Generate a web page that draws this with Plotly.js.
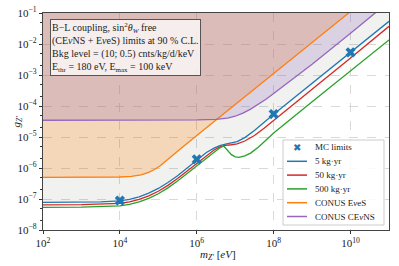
<!DOCTYPE html>
<html><head><meta charset="utf-8">
<script src="https://cdn.plot.ly/plotly-3.0.1.min.js"></script>
<style>html,body{margin:0;padding:0;background:#fff}#chart{width:399px;height:266px}</style>
</head><body><div id="chart"></div>
<script>
// ---- data (log10 values) ----
const logMassBlue = [2,3,3.5,4,4.25,4.5,4.75,5,5.25,5.5,5.75,6,6.25,6.45,6.6,6.75,6.9,7.05,7.25,7.5,8,9,10,11];
const logGBlue    = [-7.11,-7.10,-7.09,-7.06,-7.01,-6.93,-6.81,-6.66,-6.47,-6.25,-6.00,-5.74,-5.50,-5.36,-5.28,-5.23,-5.20,-5.15,-5.02,-4.79,-4.27,-3.27,-2.27,-1.27];
const logMassRed  = [2,3,4,4.25,4.5,4.75,5,5.25,5.5,5.75,6,6.25,6.45,6.6,6.75,6.9,7.05,7.25,7.5,7.75,8,9,10,11];
const logGRed     = [-7.19,-7.18,-7.14,-7.09,-7.01,-6.90,-6.75,-6.56,-6.34,-6.10,-5.84,-5.59,-5.42,-5.32,-5.27,-5.25,-5.22,-5.13,-4.95,-4.72,-4.47,-3.46,-2.45,-1.43];
const logMassGreen= [2,3,4,4.25,4.5,4.75,5,5.25,5.5,5.75,6,6.25,6.45,6.6,6.7,6.8,6.9,7.0,7.1,7.25,7.4,7.6,7.8,8,9,10,11];
const logGGreen   = [-7.27,-7.26,-7.22,-7.17,-7.09,-6.98,-6.83,-6.64,-6.42,-6.18,-5.94,-5.70,-5.49,-5.35,-5.29,-5.42,-5.57,-5.64,-5.66,-5.61,-5.52,-5.33,-5.10,-4.87,-3.86,-2.86,-1.87];
const logMassOrange=[2,3,4,4.3,4.55,4.75,4.9,5.05,5.2,5.5,6,7,8,9,10];
const logGOrange  = [-6.30,-6.30,-6.29,-6.27,-6.22,-6.14,-6.05,-5.93,-5.77,-5.46,-4.95,-3.95,-2.95,-1.95,-0.95];
const logMassPurple=[2,4,6,6.5,6.8,7.0,7.2,7.4,7.6,7.8,8.0,8.5,9,10,10.65];
const logGPurple  = [-4.46,-4.46,-4.45,-4.43,-4.39,-4.33,-4.23,-4.10,-3.95,-3.78,-3.60,-3.14,-2.65,-1.65,-0.99];
const logMassMC   = [4,6,8,10];
const logGMC      = [-7.05,-5.72,-4.26,-2.27];
const xTickVals = [2,4,6,8,10];
const yTickVals = [-8,-7,-6,-5,-4,-3,-2,-1];
const seriesNames = ['MC limits','5 kg·yr','50 kg·yr','500 kg·yr','CONUS E<i>ν</i>eS','CONUS CE<i>ν</i>NS'];

const p10 = a => a.map(v => Math.pow(10, v));
const TOP = 1; // above plotted range
function fillTop(lx, ly, color){
  const x = p10(lx), y = p10(ly);
  return {x: x.concat([x[x.length-1], x[0]]), y: y.concat([TOP, TOP]),
    type:'scatter', mode:'lines', fill:'toself', fillcolor:color,
    line:{width:0, color:'rgba(0,0,0,0)'}, hoverinfo:'skip', showlegend:false};
}
function line(lx, ly, color){
  return {x:p10(lx), y:p10(ly), type:'scatter', mode:'lines',
    line:{color:color, width:1.3}, showlegend:false};
}
const C = {blue:'#1f77b4', red:'#d62728', green:'#2ca02c', orange:'#ff7f0e', purple:'#9467bd'};
const traces = [
  fillTop(logMassGreen, logGGreen, 'rgba(44,160,44,0.025)'),
  fillTop(logMassRed, logGRed, 'rgba(214,39,40,0.015)'),
  fillTop(logMassBlue, logGBlue, 'rgba(120,120,120,0.06)'),
  fillTop(logMassOrange, logGOrange, 'rgba(255,127,14,0.24)'),
  fillTop(logMassPurple, logGPurple, 'rgba(148,103,189,0.24)'),
  line(logMassBlue, logGBlue, C.blue),
  line(logMassRed, logGRed, C.red),
  line(logMassGreen, logGGreen, C.green),
  line(logMassOrange, logGOrange, C.orange),
  line(logMassPurple, logGPurple, C.purple),
  {x:p10(logMassMC), y:p10(logGMC), type:'scatter', mode:'markers',
   marker:{symbol:'x', size:9, color:C.blue, line:{width:0}}, showlegend:false}
];

// plot geometry in pixels (for legend placement)
const L=43, R=389, T=13, B=230;
const px = v => (v-L)/(R-L);
const py = v => (B-v)/(B-T);
const serif = 'Liberation Serif, DejaVu Serif, serif';

const shapes = [
  {type:'rect', xref:'paper', yref:'paper', x0:px(283), x1:px(384), y0:py(225), y1:py(140),
   fillcolor:'rgba(255,255,255,0.85)', line:{color:'#cccccc', width:1}}
];
const legColors = [null, C.blue, C.red, C.green, C.orange, C.purple];
const annotations = [];
seriesNames.forEach((nm,i)=>{
  const yy = 147.5 + i*13.8;
  if (i>0) shapes.push({type:'line', xref:'paper', yref:'paper', x0:px(287), x1:px(307), y0:py(yy), y1:py(yy),
    line:{color:legColors[i], width:1.5}});
  else annotations.push({xref:'paper', yref:'paper', x:px(297), y:py(yy), text:'✖', showarrow:false,
    font:{family:'DejaVu Sans', size:10, color:C.blue}, xanchor:'center', yanchor:'middle'});
  annotations.push({xref:'paper', yref:'paper', x:px(313), y:py(yy), text:nm, showarrow:false,
    font:{family:serif, size:9, color:'#222'}, xanchor:'left', yanchor:'middle'});
});
annotations.push({xref:'paper', yref:'paper', x:px(50), y:py(19), xanchor:'left', yanchor:'top', align:'left',
  showarrow:false,
  text:'B−L coupling, sin<sup>2</sup><i>θ</i><sub><i>W</i></sub> free<br>(CE<i>ν</i>NS + E<i>ν</i>eS) limits at 90 % C.L.<br>Bkg level = (10; 0.5) cnts/kg/d/keV<br>E<sub>thr</sub> = 180 eV, E<sub>max</sub> = 100 keV',
  font:{family:serif, size:10, color:'#222'}, bgcolor:'rgba(255,255,255,0.75)', bordercolor:'#555', borderwidth:1, borderpad:1});
// axis titles placed as in the reference
annotations.push({xref:'paper', yref:'paper', x:px(218), y:py(255), xanchor:'center', yanchor:'middle',
  text:'<i>m</i><sub><i>Z′</i></sub> [<i>eV</i>]', showarrow:false, font:{family:serif, size:11, color:'#222'}});
annotations.push({xref:'paper', yref:'paper', x:px(16), y:0.5, xanchor:'center', yanchor:'middle', textangle:-90,
  text:'<i>g</i><sub><i>Z′</i></sub>', showarrow:false, font:{family:serif, size:11, color:'#222'}});

const layout = {
  width:399, height:266, margin:{l:L, r:399-R, t:T, b:266-B},
  paper_bgcolor:'#fff', plot_bgcolor:'#fff', showlegend:false,
  font:{family:serif, size:10, color:'#222'},
  xaxis:{type:'log', range:[2,11], tickvals:p10(xTickVals),
    ticktext:xTickVals.map(v=>'10<sup>'+v+'</sup>'), ticks:'outside', ticklen:3, tickcolor:'#333',
    showline:true, mirror:true, linecolor:'#444', linewidth:1.2,
    showgrid:true, gridcolor:'#d0d0d0', griddash:'dash', gridwidth:0.8, zeroline:false,
    tickfont:{family:serif, size:11}},
  yaxis:{type:'log', range:[-8,-1], tickvals:p10(yTickVals),
    ticktext:yTickVals.map(v=>'10<sup>−'+Math.abs(v)+'</sup>'), ticks:'outside', ticklen:3, tickcolor:'#333',
    minor:{ticks:'outside', ticklen:2, tickcolor:'#333', showgrid:false},
    showline:true, mirror:true, linecolor:'#444', linewidth:1.2,
    showgrid:true, gridcolor:'#d0d0d0', griddash:'dash', gridwidth:0.8, zeroline:false,
    tickfont:{family:serif, size:11}},
  shapes:shapes, annotations:annotations
};
Plotly.newPlot('chart', traces, layout, {staticPlot:true, displayModeBar:false});
</script></body></html>
